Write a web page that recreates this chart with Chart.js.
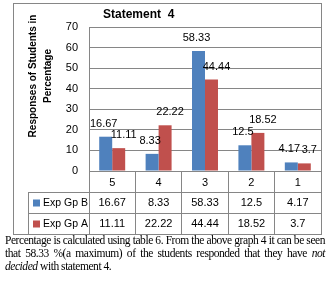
<!DOCTYPE html>
<html>
<head>
<meta charset="utf-8">
<script src="https://cdn.jsdelivr.net/npm/chart.js@4.4.1/dist/chart.umd.min.js"></script>
<style>
  html, body { margin: 0; padding: 0; background: #fff; }
  #wrap { position: relative; width: 332px; height: 282px; overflow: hidden; }
  #chart { position: absolute; left: 0; top: 0; }
  #note {
    position: absolute; left: 5px; top: 234px; width: 320px;
    font-family: "Liberation Serif", "Times New Roman", serif;
    font-size: 11.5px; line-height: 13px; color: #000;
    letter-spacing: -0.45px;
  }
  #note div { white-space: nowrap; }
  #note .j { text-align: justify; text-align-last: justify; }
</style>
</head>
<body>
<div id="wrap">
  <canvas id="chart" width="332" height="236"></canvas>
  <div id="note">
    <div class="j">Percentage is calculated using table 6. From the above graph 4 it can be seen</div>
    <div class="j">that 58.33 %(a maximum) of the students responded that they have <i>not</i></div>
    <div><i>decided</i> with statement 4.</div>
  </div>
</div>
<script>
// data
const categories = ["5", "4", "3", "2", "1"];
const groupB = [16.67, 8.33, 58.33, 12.5, 4.17];
const groupA = [11.11, 22.22, 44.44, 18.52, 3.7];
const seriesNames = ["Exp Gp B", "Exp Gp A"];
const seriesColors = ["#4F81BD", "#C0504D"];

const gridColor = "#868686";
const font = "Liberation Sans, Arial, sans-serif";
// value labels sit a little apart, like the original
const labelShift = [-2, 5];

// draws the frame, title, axis title, value labels and the data table
const extrasPlugin = {
  id: "extras",
  afterDraw(chart) {
    const ctx = chart.ctx;
    const x = chart.scales.x;
    const area = chart.chartArea;
    const tableTop = 192, rowH = 21, tableLeft = 28, frameBottom = 234;

    ctx.save();
    ctx.strokeStyle = gridColor;
    ctx.lineWidth = 1;

    // outer frame
    ctx.strokeRect(13.5, 3.5, 308, frameBottom - 3);

    // table lines
    ctx.beginPath();
    ctx.moveTo(tableLeft, tableTop + 0.5);
    ctx.lineTo(area.right, tableTop + 0.5);
    ctx.moveTo(tableLeft, tableTop + rowH + 0.5);
    ctx.lineTo(area.right, tableTop + rowH + 0.5);
    ctx.moveTo(tableLeft + 0.5, tableTop);
    ctx.lineTo(tableLeft + 0.5, frameBottom);
    ctx.stroke();

    // chart title
    ctx.fillStyle = "#000";
    ctx.font = "bold 12px " + font;
    ctx.textAlign = "left";
    ctx.textBaseline = "middle";
    ctx.fillText("Statement  4", 103, 15);

    // y axis title, two rotated lines
    ctx.font = "bold 10px " + font;
    ctx.textAlign = "center";
    ["Responses of Students in", "Percentage"].forEach((t, i) => {
      ctx.save();
      ctx.translate(33 + i * 15, 76);
      ctx.rotate(-Math.PI / 2);
      ctx.fillText(t, 0, 0);
      ctx.restore();
    });

    // value labels above bars
    ctx.font = "11px " + font;
    chart.data.datasets.forEach((ds, di) => {
      chart.getDatasetMeta(di).data.forEach((bar, j) => {
        ctx.fillText(String(ds.data[j]), bar.x + labelShift[di], bar.y - 13);
      });
    });

    // data table rows
    chart.data.datasets.forEach((ds, di) => {
      const cy = tableTop + rowH * di + rowH / 2 + 0.5;
      ctx.fillStyle = ds.backgroundColor;
      ctx.fillRect(33, cy - 3.5, 7, 7);
      ctx.fillStyle = "#000";
      ctx.textAlign = "left";
      ctx.font = "10.5px " + font;
      ctx.fillText(ds.label, 43, cy);
      ctx.textAlign = "center";
      ctx.font = "11px " + font;
      ds.data.forEach((v, j) => {
        ctx.fillText(String(v), x.getPixelForValue(j), cy);
      });
    });
    ctx.restore();
  }
};

new Chart(document.getElementById("chart"), {
  type: "bar",
  data: {
    labels: categories,
    datasets: [
      { label: seriesNames[0], data: groupB, backgroundColor: seriesColors[0] },
      { label: seriesNames[1], data: groupA, backgroundColor: seriesColors[1] }
    ]
  },
  options: {
    responsive: false,
    animation: false,
    events: [],
    layout: { padding: { left: 13, right: 11, top: 27, bottom: 0 } },
    datasets: { bar: { categoryPercentage: 0.56, barPercentage: 1.0 } },
    plugins: {
      legend: { display: false },
      title: { display: false },
      tooltip: { enabled: false }
    },
    scales: {
      x: {
        afterFit: (s) => { s.height = 65; },
        grid: {
          offset: true,
          drawOnChartArea: false,
          drawTicks: true,
          tickLength: 63,
          color: gridColor
        },
        border: { color: gridColor },
        ticks: {
          autoSkip: false,
          maxRotation: 0,
          padding: -58,
          color: "#000",
          font: { family: font, size: 11 }
        }
      },
      y: {
        min: 0,
        max: 70,
        afterFit: (s) => { s.width = 76; },
        grid: { color: gridColor, drawTicks: false },
        border: { color: gridColor },
        ticks: {
          stepSize: 10,
          padding: 11,
          color: "#000",
          font: { family: font, size: 11 }
        }
      }
    }
  },
  plugins: [extrasPlugin]
});
</script>
</body>
</html>
